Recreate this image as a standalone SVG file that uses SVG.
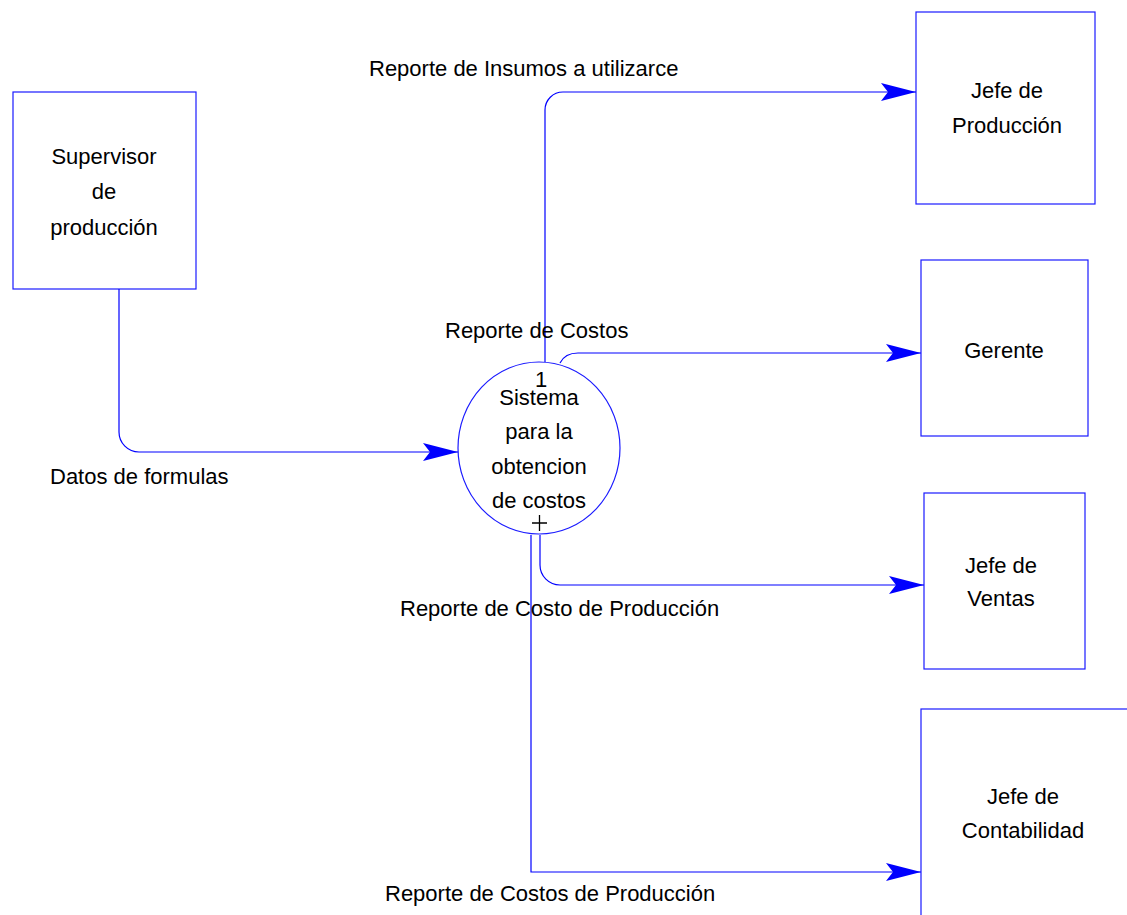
<svg xmlns="http://www.w3.org/2000/svg" width="1127" height="915" viewBox="0 0 1127 915">
  <style>
    .box { fill: #ffffff; stroke: #1a1aff; stroke-width: 1.2; }
    .proc { fill: #ffffff; stroke: #1a1aff; stroke-width: 1.2; }
    .flow { fill: none; stroke: #0000ff; stroke-width: 1.2; }
    .lbl { font-family: "Liberation Sans", Arial, sans-serif; font-size: 22px; fill: #000000; }
    .mid { text-anchor: middle; }
  </style>
  <defs>
    <marker id="arrow" markerUnits="userSpaceOnUse" markerWidth="40" markerHeight="22" viewBox="-36 -11 38 22" refX="0" refY="0" orient="auto">
      <path d="M0,0 L-35,-9 L-28,0 L-35,9 Z" fill="#0000ff"/>
    </marker>
  </defs>

  <!-- external entities -->
  <g id="supervisor">
    <rect class="box" x="13" y="92" width="183" height="197"/>
    <text class="lbl mid" x="104" y="164">Supervisor</text>
    <text class="lbl mid" x="104" y="199">de</text>
    <text class="lbl mid" x="104" y="235">producción</text>
  </g>

  <g id="jefe-produccion">
    <rect class="box" x="916" y="12" width="179" height="192"/>
    <text class="lbl mid" x="1007" y="98">Jefe de</text>
    <text class="lbl mid" x="1007" y="133">Producción</text>
  </g>

  <g id="gerente">
    <rect class="box" x="921" y="260" width="167" height="176"/>
    <text class="lbl mid" x="1004" y="358">Gerente</text>
  </g>

  <g id="jefe-ventas">
    <rect class="box" x="924" y="493" width="161" height="176"/>
    <text class="lbl mid" x="1001" y="573">Jefe de</text>
    <text class="lbl mid" x="1001" y="606">Ventas</text>
  </g>

  <g id="jefe-contabilidad">
    <rect class="box" x="921" y="709" width="260" height="260"/>
    <text class="lbl mid" x="1023" y="804">Jefe de</text>
    <text class="lbl mid" x="1023" y="838">Contabilidad</text>
  </g>

  <!-- process 1 -->
  <g id="proceso-1">
    <ellipse class="proc" cx="539" cy="448" rx="81" ry="86"/>
    <text class="lbl mid" x="541" y="387">1</text>
    <text class="lbl mid" x="539" y="405">Sistema</text>
    <text class="lbl mid" x="539" y="439">para la</text>
    <text class="lbl mid" x="539" y="474">obtencion</text>
    <text class="lbl mid" x="539" y="508">de costos</text>
    <path d="M532,523 H547 M539.5,515 V531" fill="none" stroke="#000000" stroke-width="1.3"/>
  </g>

  <!-- data flows -->
  <g id="flujos">
    <path class="flow" d="M119,289 V432 A20,20 0 0 0 139,452 H458" marker-end="url(#arrow)"/>
    <path class="flow" d="M545,362 V110 A18,18 0 0 1 563,92 H916" marker-end="url(#arrow)"/>
    <path class="flow" d="M560,363 Q565,353 578,353 H921" marker-end="url(#arrow)"/>
    <path class="flow" d="M540,535 V565 A20,20 0 0 0 560,585 H924" marker-end="url(#arrow)"/>
    <path class="flow" d="M531,535 V872 H921" marker-end="url(#arrow)"/>

    <text class="lbl" x="369" y="76">Reporte de Insumos a utilizarce</text>
    <text class="lbl" x="445" y="338">Reporte de Costos</text>
    <text class="lbl" x="50" y="484">Datos de formulas</text>
    <text class="lbl" x="400" y="616">Reporte de Costo de Producción</text>
    <text class="lbl" x="385" y="901">Reporte de Costos de Producción</text>
  </g>
</svg>
